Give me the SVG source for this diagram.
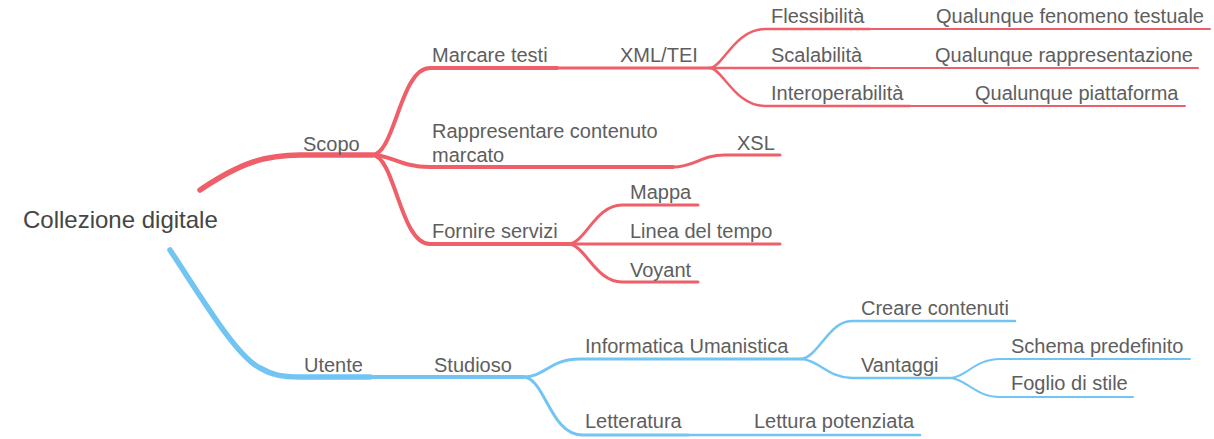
<svg xmlns="http://www.w3.org/2000/svg" width="1214" height="439" viewBox="0 0 1214 439">
<style>
text{font-family:"Liberation Sans",Arial,sans-serif;font-size:20px;fill:#5e5e5e}
.root{font-size:24px;fill:#454545}
.r{stroke:#EF5F69;fill:none;stroke-linecap:round}
.b{stroke:#72C5F3;fill:none;stroke-linecap:round}
.w5{stroke-width:5.5}.w4{stroke-width:4}.w3{stroke-width:3}.w25{stroke-width:2.5}.w2{stroke-width:2}
</style>
<rect width="1214" height="439" fill="#fff"/>
<g id="connectors">
<path class="r w5" d="M200,190 C240,163 265,155 300,155 L372,155" stroke-linecap="butt"/>
<path class="r w4" d="M372,155 C395,155 400,68 430,68 L557,68"/>
<path class="r w3" d="M557,68 L710,68"/>
<path class="r w25" d="M710,68 C722,68 735,29 765,29 L870,29"/>
<path class="r w2" d="M870,29 L1210,29"/>
<path class="r w25" d="M710,68 L870,68"/>
<path class="r w2" d="M870,68 L1198,68"/>
<path class="r w25" d="M710,68 C722,68 735,106 765,106 L910,106"/>
<path class="r w2" d="M910,106 L1185,106"/>
<path class="r w4" d="M372,155 C392,155 400,167 430,167 L673,167"/>
<path class="r w3" d="M673,167 C695,167 700,155 725,155 L780,155"/>
<path class="r w4" d="M372,155 C395,155 400,244 430,244 L568,244"/>
<path class="r w3" d="M568,244 C585,244 595,205 622,205 L698,205"/>
<path class="r w3" d="M568,244 L780,244"/>
<path class="r w3" d="M568,244 C585,244 595,282 622,282 L698,282"/>
<path class="b w5" d="M170,250 C200,295 235,355 260,368 C272,375 282,377 300,377 L370,377" stroke-linecap="butt"/>
<path class="b w4" d="M370,377 L523,377"/>
<path class="b w3" d="M523,377 C545,377 550,359 580,359 L800,359"/>
<path class="b w3" d="M523,377 C545,377 550,435 582,435 L688,435"/>
<path class="b w25" d="M688,435 L920,435"/>
<path class="b w25" d="M800,359 C818,359 828,321 852,321 L1015,321"/>
<path class="b w25" d="M800,359 C818,359 828,378 852,378 L950,378"/>
<path class="b w2" d="M950,378 C965,378 975,359 1000,359 L1190,359"/>
<path class="b w2" d="M950,378 C965,378 975,397 1000,397 L1133,397"/>
</g>
<g id="root"><text class="root" x="23" y="228">Collezione digitale</text></g>
<g id="scopo"><text x="303" y="151">Scopo</text></g>
<g id="marcare"><text x="432" y="62">Marcare testi</text></g>
<g id="xmltei"><text x="620" y="62">XML/TEI</text></g>
<g id="flessibilita"><text x="771" y="23">Flessibilità</text></g>
<g id="fenomeno"><text x="936" y="23">Qualunque fenomeno testuale</text></g>
<g id="scalabilita"><text x="771" y="62">Scalabilità</text></g>
<g id="rappresentazione"><text x="935" y="62">Qualunque rappresentazione</text></g>
<g id="interoperabilita"><text x="771" y="100">Interoperabilità</text></g>
<g id="piattaforma"><text x="975" y="100">Qualunque piattaforma</text></g>
<g id="rappresentare"><text x="432" y="138">Rappresentare contenuto</text><text x="432" y="162">marcato</text></g>
<g id="xsl"><text x="737" y="150">XSL</text></g>
<g id="fornire"><text x="432" y="238">Fornire servizi</text></g>
<g id="mappa"><text x="630" y="199">Mappa</text></g>
<g id="linea"><text x="630" y="238">Linea del tempo</text></g>
<g id="voyant"><text x="630" y="277">Voyant</text></g>
<g id="utente"><text x="304" y="372">Utente</text></g>
<g id="studioso"><text x="434" y="372">Studioso</text></g>
<g id="informatica"><text x="585" y="353">Informatica Umanistica</text></g>
<g id="creare"><text x="861" y="315">Creare contenuti</text></g>
<g id="vantaggi"><text x="861" y="372">Vantaggi</text></g>
<g id="schema"><text x="1011" y="353">Schema predefinito</text></g>
<g id="foglio"><text x="1011" y="390">Foglio di stile</text></g>
<g id="letteratura"><text x="585" y="428">Letteratura</text></g>
<g id="lettura"><text x="754" y="428">Lettura potenziata</text></g>
</svg>
